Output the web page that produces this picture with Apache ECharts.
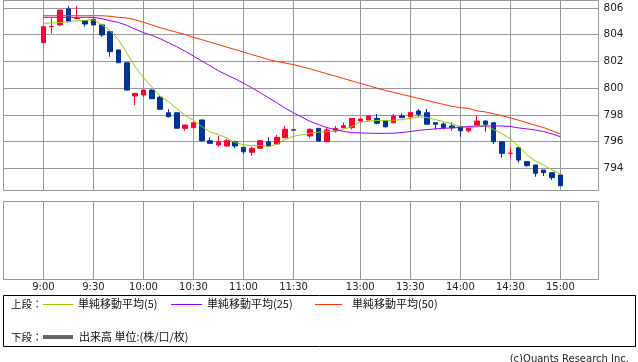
<!DOCTYPE html>
<html><head><meta charset="utf-8">
<script src="https://cdn.jsdelivr.net/npm/echarts@6/dist/echarts.min.js"></script>
<style>html,body{margin:0;padding:0;background:#fff}#c{width:638px;height:362px}</style>
</head><body><div id="c"></div>
<script>
const categories = [
 '9:00','9:05','9:10','9:15','9:20','9:25','9:30','9:35','9:40','9:45','9:50','9:55',
 '10:00','10:05','10:10','10:15','10:20','10:25','10:30','10:35','10:40','10:45','10:50','10:55',
 '11:00','11:05','11:10','11:15','11:20','11:25','11:30','',
 '12:30','12:35','12:40','12:45','12:50','12:55',
 '13:00','13:05','13:10','13:15','13:20','13:25','13:30','13:35','13:40','13:45','13:50','13:55',
 '14:00','14:05','14:10','14:15','14:20','14:25','14:30','14:35','14:40','14:45','14:50','14:55',
 '15:00'];
const tickLabels = ['9:00','9:30','10:00','10:30','11:00','11:30','13:00','13:30','14:00','14:30','15:00'];
const yTicks = [794,796,798,800,802,804,806];

const openP = [803.4,804.6,804.73,805.93,805.22,805.05,805.15,804.73,804.23,802.86,
 801.9,799.41,799.49,799.86,799.32,798.16,798.16,796.99,797.04,797.62,
 796.07,795.75,795.67,795.99,795.57,795.2,795.5,795.99,795.82,796.29,
 796.88,null,796.42,796.99,795.99,796.79,797.04,797.04,797.54,797.62,
 797.74,797.56,797.41,797.92,797.86,798.29,798.16,797.41,797.32,797.17,
 797.12,796.81,797.24,797.54,797.41,795.99,795.12,795.54,794.5,794.25,
 793.87,793.67,793.5];
const closeP = [804.6,804.61,805.85,804.97,805.23,804.8,804.73,803.98,802.73,801.9,
 799.86,799.61,799.86,799.21,798.42,797.86,797.0,797.24,797.41,796.07,
 795.87,795.99,796.07,795.67,795.24,795.5,796.07,795.67,796.32,796.92,
 796.86,null,796.92,796.04,796.87,796.99,797.19,797.74,797.69,797.92,
 797.37,797.11,797.92,797.79,798.19,798.04,797.3,797.3,797.04,797.04,
 796.81,797.07,797.54,797.29,795.99,795.12,795.14,794.62,794.2,793.63,
 793.67,793.3,792.7];
const lowP = [803.4,804.1,804.65,804.97,805.2,804.6,804.73,803.85,802.35,801.9,
 799.8,798.74,799.32,799.21,798.42,797.82,797.0,796.81,797.04,795.99,
 795.87,795.62,795.62,795.5,795.07,794.95,795.5,795.67,795.82,796.29,
 796.86,null,796.25,795.99,795.99,796.67,796.99,796.92,797.41,797.62,
 797.3,797.04,797.41,797.79,797.86,797.86,797.3,796.92,796.92,796.81,
 796.37,796.67,797.24,796.74,795.82,794.8,794.8,794.42,794.12,793.37,
 793.42,793.13,792.7];
const highP = [804.6,805.23,805.85,806.15,806.15,805.05,805.23,804.8,804.23,802.86,
 801.9,799.61,799.86,799.9,799.45,798.42,798.16,797.24,797.41,797.62,
 796.32,796.42,796.22,796.07,795.57,795.62,796.07,796.32,796.49,797.17,
 796.88,null,796.99,796.99,797.07,797.17,797.44,797.74,797.74,797.92,
 798.06,797.56,798.06,798.11,798.19,798.44,798.44,797.41,797.44,797.44,
 797.12,797.07,797.92,797.6,797.41,795.99,795.57,795.62,794.5,794.25,
 793.87,793.67,793.5];

const ma5 = [804.85,804.88,804.9,804.99,805.03,805.08,805.12,804.75,804.3,803.63,
 802.64,801.62,800.79,800.09,799.39,798.99,798.47,797.95,797.59,797.12,
 796.72,796.52,796.28,795.93,795.77,795.69,795.71,795.63,795.8,796.15,
 796.4,null,796.62,796.7,796.74,796.8,796.9,797.15,797.45,797.53,
 797.58,797.57,797.6,797.64,797.75,797.85,797.8,797.65,797.5,797.34,
 797.1,797.05,797.1,797.15,796.9,796.6,796.21,795.63,795.01,794.54,
 794.25,793.88,793.55];
const ma25 = [805.3,805.3,805.3,805.3,805.3,805.3,805.3,805.2,805.05,804.92,
 804.7,804.42,804.15,803.95,803.7,803.4,803.1,802.76,802.4,802.03,
 801.67,801.3,800.98,800.7,800.36,800.03,799.66,799.28,798.9,798.5,
 798.15,null,797.51,797.27,797.05,796.9,796.76,796.67,796.65,796.63,
 796.62,796.62,796.63,796.68,796.75,796.84,796.9,796.95,797.0,797.02,
 797.07,797.13,797.17,797.17,797.17,797.17,797.13,797.02,796.95,796.86,
 796.75,796.57,796.37];
const ma50 = [805.42,805.42,805.42,805.42,805.42,805.42,805.42,805.42,805.38,805.3,
 805.25,805.12,804.93,804.73,804.53,804.35,804.18,804.02,803.8,803.63,
 803.44,803.25,803.07,802.89,802.7,802.51,802.33,802.14,802.0,801.88,
 801.76,null,801.44,801.26,801.08,800.9,800.72,800.54,800.36,800.18,
 800.0,799.82,799.68,799.53,799.38,799.23,799.08,798.93,798.78,798.64,
 798.54,798.48,798.3,798.22,798.08,797.94,797.78,797.6,797.41,797.22,
 797.05,796.81,796.57];

const candles = categories.map((c, i) => openP[i] == null ? '-' : [openP[i], closeP[i], lowP[i], highP[i]]);
const isTick = (idx, val) => tickLabels.indexOf(val) >= 0;

const GRID_COLOR = '#999';
const yMin = 792.34, yMax = 806.56;
const CJK = '"Noto Sans CJK JP", sans-serif';

const chart = echarts.init(document.getElementById('c'), null, {renderer: 'canvas'});
chart.setOption({
  animation: false,
  backgroundColor: '#fff',
  grid: [
    {left: 3.5, top: 0.5, width: 595, height: 190, show: true, borderColor: GRID_COLOR, borderWidth: 1, backgroundColor: 'transparent'},
    {left: 43.4, top: 0.5, width: 517, height: 190},
    {left: 3.5, top: 201.5, width: 595, height: 78, show: true, borderColor: GRID_COLOR, borderWidth: 1, backgroundColor: 'transparent'},
    {left: 43.4, top: 201.5, width: 517, height: 78}
  ],
  xAxis: [
    {type: 'value', gridIndex: 0, min: 0, max: 1, show: false},
    {type: 'category', gridIndex: 1, data: categories, boundaryGap: false,
     axisLine: {show: false}, axisTick: {show: false}, axisLabel: {show: false},
     splitLine: {show: true, interval: isTick, lineStyle: {color: GRID_COLOR, width: 1}}},
    {type: 'value', gridIndex: 2, min: 0, max: 1, show: false},
    {type: 'category', gridIndex: 3, data: categories, boundaryGap: false,
     axisLine: {show: false}, axisTick: {show: false},
     axisLabel: {show: true, interval: isTick, margin: 3, fontSize: 10, color: '#222', fontFamily: 'DejaVu Sans'},
     splitLine: {show: true, interval: isTick, lineStyle: {color: GRID_COLOR, width: 1}}}
  ],
  yAxis: [
    {type: 'value', gridIndex: 0, position: 'right', min: yMin, max: yMax,
     axisLine: {show: false},
     axisTick: {show: true, length: 5, customValues: yTicks, lineStyle: {color: GRID_COLOR}},
     axisLabel: {show: true, customValues: yTicks, margin: 5, fontSize: 10.5, color: '#222', fontFamily: 'DejaVu Sans'},
     splitLine: {show: true, lineStyle: {color: GRID_COLOR, width: 1}}},
    {type: 'value', gridIndex: 1, min: yMin, max: yMax, show: false, splitLine: {show: false}},
    {type: 'value', gridIndex: 2, min: 0, max: 1, show: false, splitLine: {show: false}},
    {type: 'value', gridIndex: 3, min: 0, max: 1, show: false, splitLine: {show: false}}
  ],
  series: [
    {type: 'candlestick', name: '株価', xAxisIndex: 1, yAxisIndex: 1, data: candles, barWidth: 5,
     itemStyle: {color: '#ff0033', color0: '#003399', borderColor: '#ff0033', borderColor0: '#003399', borderWidth: 1}},
    {type: 'line', name: '単純移動平均(5)', xAxisIndex: 1, yAxisIndex: 1, data: ma5, symbol: 'none', connectNulls: true,
     lineStyle: {color: '#99cc00', width: 1}, z: 3},
    {type: 'line', name: '単純移動平均(25)', xAxisIndex: 1, yAxisIndex: 1, data: ma25, symbol: 'none', connectNulls: true,
     lineStyle: {color: '#9900ff', width: 1}, z: 3},
    {type: 'line', name: '単純移動平均(50)', xAxisIndex: 1, yAxisIndex: 1, data: ma50, symbol: 'none', connectNulls: true,
     lineStyle: {color: '#ff3300', width: 1}, z: 3}
  ],
  graphic: [
    {type: 'rect', shape: {x: 3.5, y: 295.5, width: 632, height: 51}, style: {fill: 'none', stroke: '#000', lineWidth: 1}},
    {type: 'text', x: 11, y: 304, style: {text: '上段：', font: '10.5px ' + CJK, fill: '#111', verticalAlign: 'middle'}},
    {type: 'line', shape: {x1: 43, y1: 304.5, x2: 73, y2: 304.5}, style: {stroke: '#99cc00', lineWidth: 1}},
    {type: 'text', x: 78, y: 304, style: {text: '単純移動平均(5)', font: '11px ' + CJK, fill: '#111', verticalAlign: 'middle'}},
    {type: 'line', shape: {x1: 171, y1: 304.5, x2: 202, y2: 304.5}, style: {stroke: '#9900ff', lineWidth: 1}},
    {type: 'text', x: 207, y: 304, style: {text: '単純移動平均(25)', font: '11px ' + CJK, fill: '#111', verticalAlign: 'middle'}},
    {type: 'line', shape: {x1: 315, y1: 304.5, x2: 342, y2: 304.5}, style: {stroke: '#ff3300', lineWidth: 1}},
    {type: 'text', x: 352, y: 304, style: {text: '単純移動平均(50)', font: '11px ' + CJK, fill: '#111', verticalAlign: 'middle'}},
    {type: 'text', x: 11, y: 337, style: {text: '下段：', font: '10.5px ' + CJK, fill: '#111', verticalAlign: 'middle'}},
    {type: 'line', shape: {x1: 43, y1: 337, x2: 73, y2: 337}, style: {stroke: '#666', lineWidth: 4}},
    {type: 'text', x: 79, y: 337, style: {text: '出来高 単位:(株/口/枚)', font: '11px ' + CJK, fill: '#111', verticalAlign: 'middle'}},
    {type: 'text', x: 629, y: 359, style: {text: '(c)Quants Research Inc.', font: '10px "DejaVu Sans", sans-serif', fill: '#222', align: 'right', verticalAlign: 'middle'}}
  ]
});
</script></body></html>
